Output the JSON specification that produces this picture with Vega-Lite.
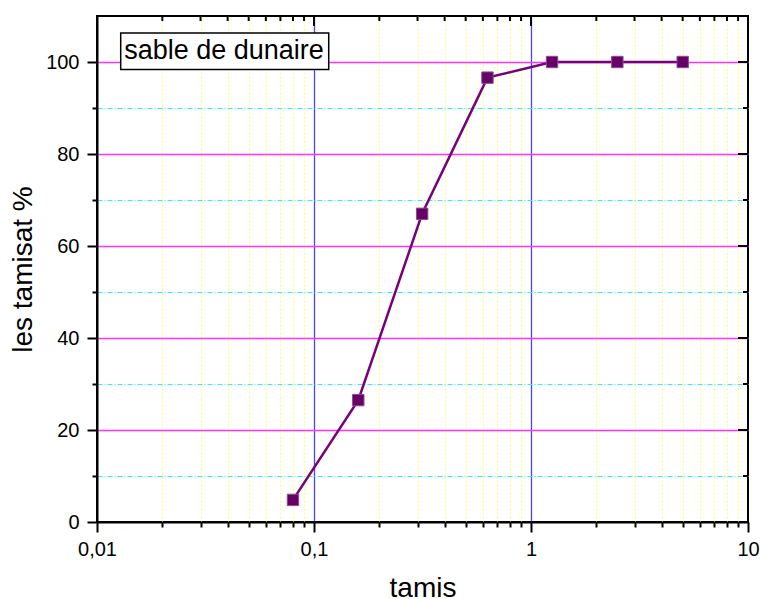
{
  "$schema": "https://vega.github.io/schema/vega-lite/v6.json",
  "autosize": "none",
  "width": 651,
  "height": 506,
  "padding": {"left": 97, "top": 16, "right": 12, "bottom": 77},
  "background": "white",
  "config": {
    "font": "Liberation Sans",
    "view": {"stroke": "black", "strokeWidth": 2},
    "axis": {
      "domainColor": "black",
      "domainWidth": 2,
      "tickColor": "black",
      "tickWidth": 2,
      "labelColor": "black",
      "titleColor": "black",
      "labelFont": "Liberation Sans",
      "titleFont": "Liberation Sans",
      "labelFontSize": 20,
      "titleFontSize": 28,
      "titleFontWeight": "normal"
    }
  },
  "datasets": {
    "xticks": [
      {"v": 0.01, "kind": "major"}, {"v": 0.02, "kind": "minor"}, {"v": 0.03, "kind": "minor"}, {"v": 0.04, "kind": "minor"}, {"v": 0.05, "kind": "minor"}, {"v": 0.06, "kind": "minor"}, {"v": 0.07, "kind": "minor"}, {"v": 0.08, "kind": "minor"}, {"v": 0.09, "kind": "minor"},
      {"v": 0.1, "kind": "major"}, {"v": 0.2, "kind": "minor"}, {"v": 0.3, "kind": "minor"}, {"v": 0.4, "kind": "minor"}, {"v": 0.5, "kind": "minor"}, {"v": 0.6, "kind": "minor"}, {"v": 0.7, "kind": "minor"}, {"v": 0.8, "kind": "minor"}, {"v": 0.9, "kind": "minor"},
      {"v": 1, "kind": "major"}, {"v": 2, "kind": "minor"}, {"v": 3, "kind": "minor"}, {"v": 4, "kind": "minor"}, {"v": 5, "kind": "minor"}, {"v": 6, "kind": "minor"}, {"v": 7, "kind": "minor"}, {"v": 8, "kind": "minor"}, {"v": 9, "kind": "minor"}
    ],
    "yticks": [
      {"v": 10, "kind": "minor"}, {"v": 20, "kind": "major"}, {"v": 30, "kind": "minor"}, {"v": 40, "kind": "major"}, {"v": 50, "kind": "minor"},
      {"v": 60, "kind": "major"}, {"v": 70, "kind": "minor"}, {"v": 80, "kind": "major"}, {"v": 90, "kind": "minor"}, {"v": 100, "kind": "major"}
    ]
  },
  "data": {
    "values": [
      {"tamis": 0.08, "tamisat": 4.8},
      {"tamis": 0.16, "tamisat": 26.5},
      {"tamis": 0.315, "tamisat": 67},
      {"tamis": 0.63, "tamisat": 96.6},
      {"tamis": 1.25, "tamisat": 100},
      {"tamis": 2.5, "tamisat": 100},
      {"tamis": 5, "tamisat": 100}
    ]
  },
  "layer": [
    {
      "mark": {"type": "line", "color": "#780078", "strokeWidth": 2.5},
      "encoding": {
        "x": {
          "field": "tamis", "type": "quantitative",
          "scale": {"type": "log", "domain": [0.01, 10], "nice": false},
          "axis": {
            "orient": "bottom",
            "title": "tamis",
            "titleY": 74,
            "titleBaseline": "alphabetic",
            "values": [0.01,0.02,0.03,0.04,0.05,0.06,0.07,0.08,0.09,0.1,0.2,0.3,0.4,0.5,0.6,0.7,0.8,0.9,1,2,3,4,5,6,7,8,9,10],
            "labelExpr": "datum.value == 0.01 ? '0,01' : datum.value == 0.1 ? '0,1' : datum.value == 1 ? '1' : datum.value == 10 ? '10' : ''",
            "labelPadding": 7,
            "labelFlush": false,
            "labelOverlap": false,
            "tickSize": {"condition": {"test": "abs(log(datum.value)/LN10 - round(log(datum.value)/LN10)) < 0.01", "value": 10}, "value": 5},
            "grid": true,
            "gridColor": {"condition": {"test": "abs(log(datum.value)/LN10 - round(log(datum.value)/LN10)) < 0.01", "value": "#4646ff"}, "value": "#ffff70"},
            "gridDash": {"condition": {"test": "abs(log(datum.value)/LN10 - round(log(datum.value)/LN10)) < 0.01", "value": []}, "value": [2, 2]},
            "gridWidth": {"condition": {"test": "abs(log(datum.value)/LN10 - round(log(datum.value)/LN10)) < 0.01", "value": 1.3}, "value": 1},
            "gridOpacity": {"condition": {"test": "datum.value < 0.011 || datum.value > 9.9", "value": 0}, "value": 1}
          }
        },
        "y": {
          "field": "tamisat", "type": "quantitative",
          "scale": {"domain": [0, 110], "nice": false, "zero": true},
          "axis": {
            "orient": "left",
            "title": "les tamisat %",
            "titleX": -66,
            "titleY": 253,
            "titleAngle": -90,
            "titleAlign": "center",
            "titleBaseline": "alphabetic",
            "values": [0,10,20,30,40,50,60,70,80,90,100],
            "labelExpr": "datum.value % 20 == 0 ? datum.label : ''",
            "labelPadding": 8,
            "labelFlush": false,
            "labelOverlap": false,
            "tickSize": {"condition": {"test": "datum.value % 20 == 0", "value": 10}, "value": 5},
            "grid": true,
            "gridColor": {"condition": {"test": "datum.value % 20 == 0", "value": "#ff33ff"}, "value": "#33f0f0"},
            "gridDash": {"condition": {"test": "datum.value % 20 == 0", "value": []}, "value": [5, 2, 1, 2]},
            "gridWidth": {"condition": {"test": "datum.value % 20 == 0", "value": 1.3}, "value": 1},
            "gridOpacity": {"condition": {"test": "datum.value == 0", "value": 0}, "value": 1}
          }
        }
      }
    },
    {
      "data": {"name": "xticks"},
      "transform": [{"filter": "datum.kind == 'major'"}],
      "mark": {"type": "rule", "color": "black", "strokeWidth": 2},
      "encoding": {
        "x": {"field": "v", "type": "quantitative", "axis": null},
        "y": {"datum": 110, "type": "quantitative", "axis": null},
        "y2": {"datum": 107.83}
      }
    },
    {
      "data": {"name": "xticks"},
      "transform": [{"filter": "datum.kind == 'minor'"}],
      "mark": {"type": "rule", "color": "black", "strokeWidth": 2},
      "encoding": {
        "x": {"field": "v", "type": "quantitative", "axis": null},
        "y": {"datum": 110, "type": "quantitative", "axis": null},
        "y2": {"datum": 108.91}
      }
    },
    {
      "data": {"name": "yticks"},
      "transform": [{"filter": "datum.kind == 'major'"}],
      "mark": {"type": "rule", "color": "black", "strokeWidth": 2},
      "encoding": {
        "y": {"field": "v", "type": "quantitative", "axis": null},
        "x": {"datum": 10, "type": "quantitative", "axis": null},
        "x2": {"datum": 8.995}
      }
    },
    {
      "data": {"name": "yticks"},
      "transform": [{"filter": "datum.kind == 'minor'"}],
      "mark": {"type": "rule", "color": "black", "strokeWidth": 2},
      "encoding": {
        "y": {"field": "v", "type": "quantitative", "axis": null},
        "x": {"datum": 10, "type": "quantitative", "axis": null},
        "x2": {"datum": 9.483}
      }
    },
    {
      "mark": {"type": "point", "shape": "square", "filled": true, "size": 130, "color": "#660066", "stroke": "#8e4a8e", "strokeWidth": 1, "opacity": 1},
      "encoding": {
        "x": {"field": "tamis", "type": "quantitative", "axis": null},
        "y": {"field": "tamisat", "type": "quantitative", "axis": null}
      }
    },
    {
      "data": {"values": [{}]},
      "mark": {"type": "rect", "fill": "white", "stroke": "black", "strokeWidth": 1.5},
      "encoding": {
        "x": {"datum": 0.01286, "type": "quantitative", "axis": null},
        "x2": {"datum": 0.1169},
        "y": {"datum": 106.3, "type": "quantitative", "axis": null},
        "y2": {"datum": 98.35}
      }
    },
    {
      "data": {"values": [{}]},
      "mark": {"type": "text", "fontSize": 27, "font": "Liberation Sans", "color": "black", "align": "center", "baseline": "alphabetic"},
      "encoding": {
        "x": {"datum": 0.0385, "type": "quantitative", "axis": null},
        "y": {"datum": 100.6, "type": "quantitative", "axis": null},
        "text": {"value": "sable de dunaire"}
      }
    }
  ],
  "resolve": {"axis": {"x": "independent", "y": "independent"}}
}
